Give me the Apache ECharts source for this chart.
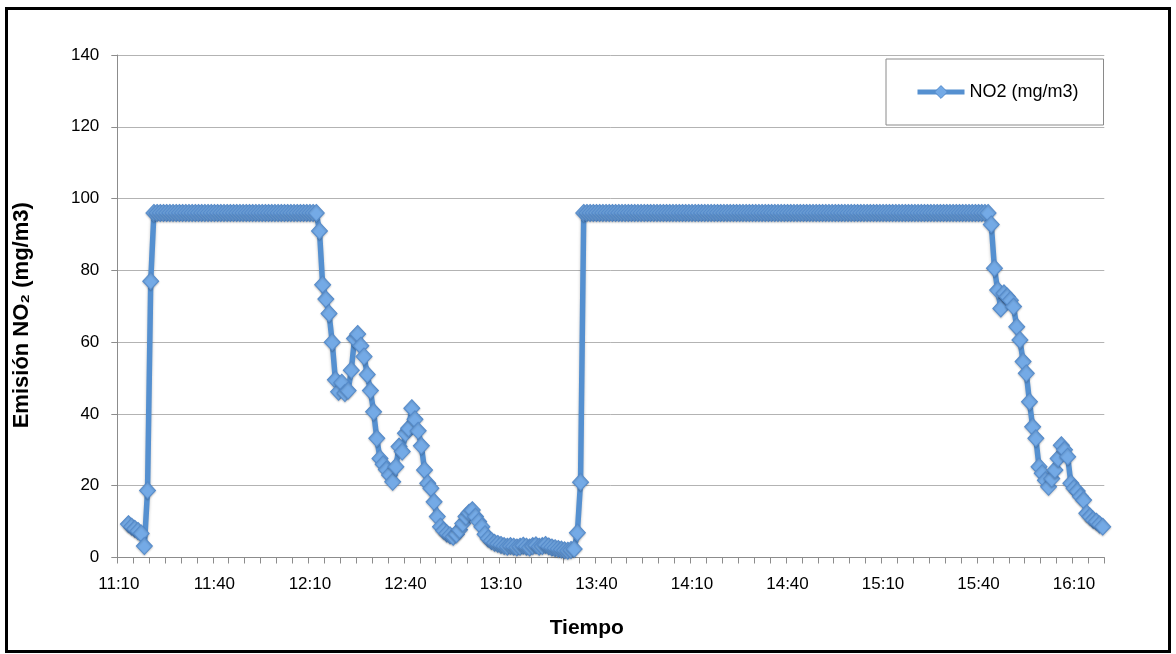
<!DOCTYPE html>
<html>
<head>
<meta charset="utf-8">
<script src="https://cdn.jsdelivr.net/npm/echarts@6/dist/echarts.min.js"></script>
<style>
  html, body { margin: 0; padding: 0; background: #ffffff; }
  #chart { width: 1176px; height: 654px; }
</style>
</head>
<body>
<div id="chart"></div>
<script>
// ---- data ----
const startTime = '11:10';
const categoryCount = 310; // one category per minute, 11:10 .. 16:19
const categories = [];
(function () {
  const [h0, m0] = startTime.split(':').map(Number);
  for (let i = 0; i < categoryCount; i++) {
    const t = h0 * 60 + m0 + i;
    categories.push(Math.floor(t / 60) + ':' + String(t % 60).padStart(2, '0'));
  }
})();

const seriesName = 'NO2 (mg/m3)';

// NO2 readings (mg/m3), one per minute
const no2Start = [null, null, null, 9.3, 8.6, 8.0, 7.4, 6.7, 3.2, 18.7, 77];
const no2Plateau1 = [
  96, 96, 96, 96, 96, 96, 96, 96, 96, 96, 96, 96, 96, 96, 96, 96, 96, 96, 96, 96,
  96, 96, 96, 96, 96, 96, 96, 96, 96, 96, 96, 96, 96, 96, 96, 96, 96, 96, 96, 96,
  96, 96, 96, 96, 96, 96, 96, 96, 96, 96, 96, 96
];
const no2Middle = [
  91, 76, 72, 68, 60, 49.5, 46.2, 48.7, 45.8, 46.5,
  52.2, 61, 62.3, 59, 56, 51, 46.5, 40.6, 33.2, 27.6,
  26, 24.5, 23, 21.1, 25.3, 30.9, 29.5, 34.6, 36, 41.6,
  38.5, 35.3, 31.1, 24.4, 20.7, 19.3, 15.5, 11.4, 8.6, 7.5,
  6.7, 6.2, 5.8, 6.5, 7.7, 9.5, 11.4, 12.5, 13.2, 11.4,
  10, 8.6, 6.5, 5.3, 4.6, 4.1, 3.8, 3.5, 3.2, 3.0,
  3.2, 3.0, 2.8, 3.0, 3.3, 3.0, 2.8, 3.2, 3.4, 3.0,
  3.2, 3.5, 3.1, 2.8, 2.6, 2.4, 2.2, 2.0, 1.9, 2.1,
  2.4, 6.9, 21
];
const no2Plateau2 = [
  96, 96, 96, 96, 96, 96, 96, 96, 96, 96, 96, 96, 96, 96, 96, 96, 96, 96, 96, 96,
  96, 96, 96, 96, 96, 96, 96, 96, 96, 96, 96, 96, 96, 96, 96, 96, 96, 96, 96, 96,
  96, 96, 96, 96, 96, 96, 96, 96, 96, 96, 96, 96, 96, 96, 96, 96, 96, 96, 96, 96,
  96, 96, 96, 96, 96, 96, 96, 96, 96, 96, 96, 96, 96, 96, 96, 96, 96, 96, 96, 96,
  96, 96, 96, 96, 96, 96, 96, 96, 96, 96, 96, 96, 96, 96, 96, 96, 96, 96, 96, 96,
  96, 96, 96, 96, 96, 96, 96, 96, 96, 96, 96, 96, 96, 96, 96, 96, 96, 96, 96, 96,
  96, 96, 96, 96, 96, 96, 96, 96
];
const no2End = [
  92.8, 80.6, 74.5, 69.4, 73.6, 72.7, 71.7, 69.9, 64.3, 60.6,
  54.6, 51.3, 43.4, 36.4, 33.2, 25.3, 23.5, 21.5, 19.7, 22,
  24.4, 27.6, 31.3, 30, 28.1, 20.7, 19.3, 18.5, 17, 16,
  12.3, 11.4, 10.5, 10, 9.2, 8.6
];
const no2Values = [].concat(no2Start, no2Plateau1, no2Middle, no2Plateau2, no2End);

const yTicks = { min: 0, max: 140, interval: 20 };
const yAxisTitle = 'Emisión NO₂ (mg/m3)';
const xAxisTitle = 'Tiempo';

// ---- chart ----
const chart = echarts.init(document.getElementById('chart'), null, { renderer: 'canvas' });
const FONT = '"Liberation Sans", Arial, sans-serif';
const LINE = '#5590d0';
const FILL = '#74aae6';
const EDGE = '#558bcb';

chart.setOption({
  animation: false,
  backgroundColor: '#ffffff',
  textStyle: { fontFamily: FONT },
  graphic: [{
    type: 'rect',
    shape: { x: 6.5, y: 8.5, width: 1163, height: 643 },
    style: { fill: 'none', stroke: '#000000', lineWidth: 3 },
    silent: true,
    z: 100
  }],
  grid: { left: 117.3, right: 71.7, top: 55, bottom: 96.5, containLabel: false },
  legend: {
    data: [seriesName],
    left: 886, top: 59,
    padding: [24, 25, 24, 29],
    borderColor: '#8a8a8a', borderWidth: 1,
    itemWidth: 47, itemHeight: 16,
    lineStyle: { width: 5, color: LINE },
    itemStyle: { color: FILL, borderColor: EDGE, borderWidth: 1 },
    textStyle: { fontSize: 18, color: '#000', fontFamily: FONT }
  },
  xAxis: {
    type: 'category',
    data: categories,
    boundaryGap: true,
    name: xAxisTitle,
    nameLocation: 'middle',
    nameGap: 60,
    nameTextStyle: { fontSize: 21, fontWeight: 'bold', color: '#000', fontFamily: FONT, padding: [0, 48, 0, 0] },
    axisLine: { lineStyle: { color: '#8c8c8c', width: 1 } },
    axisTick: { show: true, interval: 4, length: 6, lineStyle: { color: '#8c8c8c' } },
    axisLabel: { interval: 29, fontSize: 17, color: '#000', margin: 18, fontFamily: FONT },
    splitLine: { show: false }
  },
  yAxis: {
    type: 'value',
    min: yTicks.min, max: yTicks.max, interval: yTicks.interval,
    name: yAxisTitle,
    nameLocation: 'middle',
    nameGap: 84,
    nameRotate: 90,
    nameTextStyle: { fontSize: 22, fontWeight: 'bold', color: '#000', fontFamily: FONT, padding: [0, 18, 0, 0] },
    axisLine: { show: true, lineStyle: { color: '#8c8c8c', width: 1 } },
    axisTick: { show: true, length: 6, lineStyle: { color: '#8c8c8c' } },
    axisLabel: { fontSize: 17, color: '#000', margin: 18, fontFamily: FONT },
    splitLine: { show: true, lineStyle: { color: '#b3b3b3', width: 1 } }
  },
  series: [{
    name: seriesName,
    type: 'line',
    data: no2Values,
    symbol: 'diamond',
    symbolSize: [16, 17],
    showSymbol: true,
    showAllSymbol: true,
    connectNulls: false,
    lineStyle: { color: LINE, width: 5.5, shadowColor: 'rgba(0,0,0,0.25)', shadowBlur: 3, shadowOffsetY: 2 },
    itemStyle: { color: FILL, borderColor: EDGE, borderWidth: 1, shadowColor: 'rgba(0,0,0,0.2)', shadowBlur: 2, shadowOffsetY: 1 }
  }]
});
</script>
</body>
</html>
